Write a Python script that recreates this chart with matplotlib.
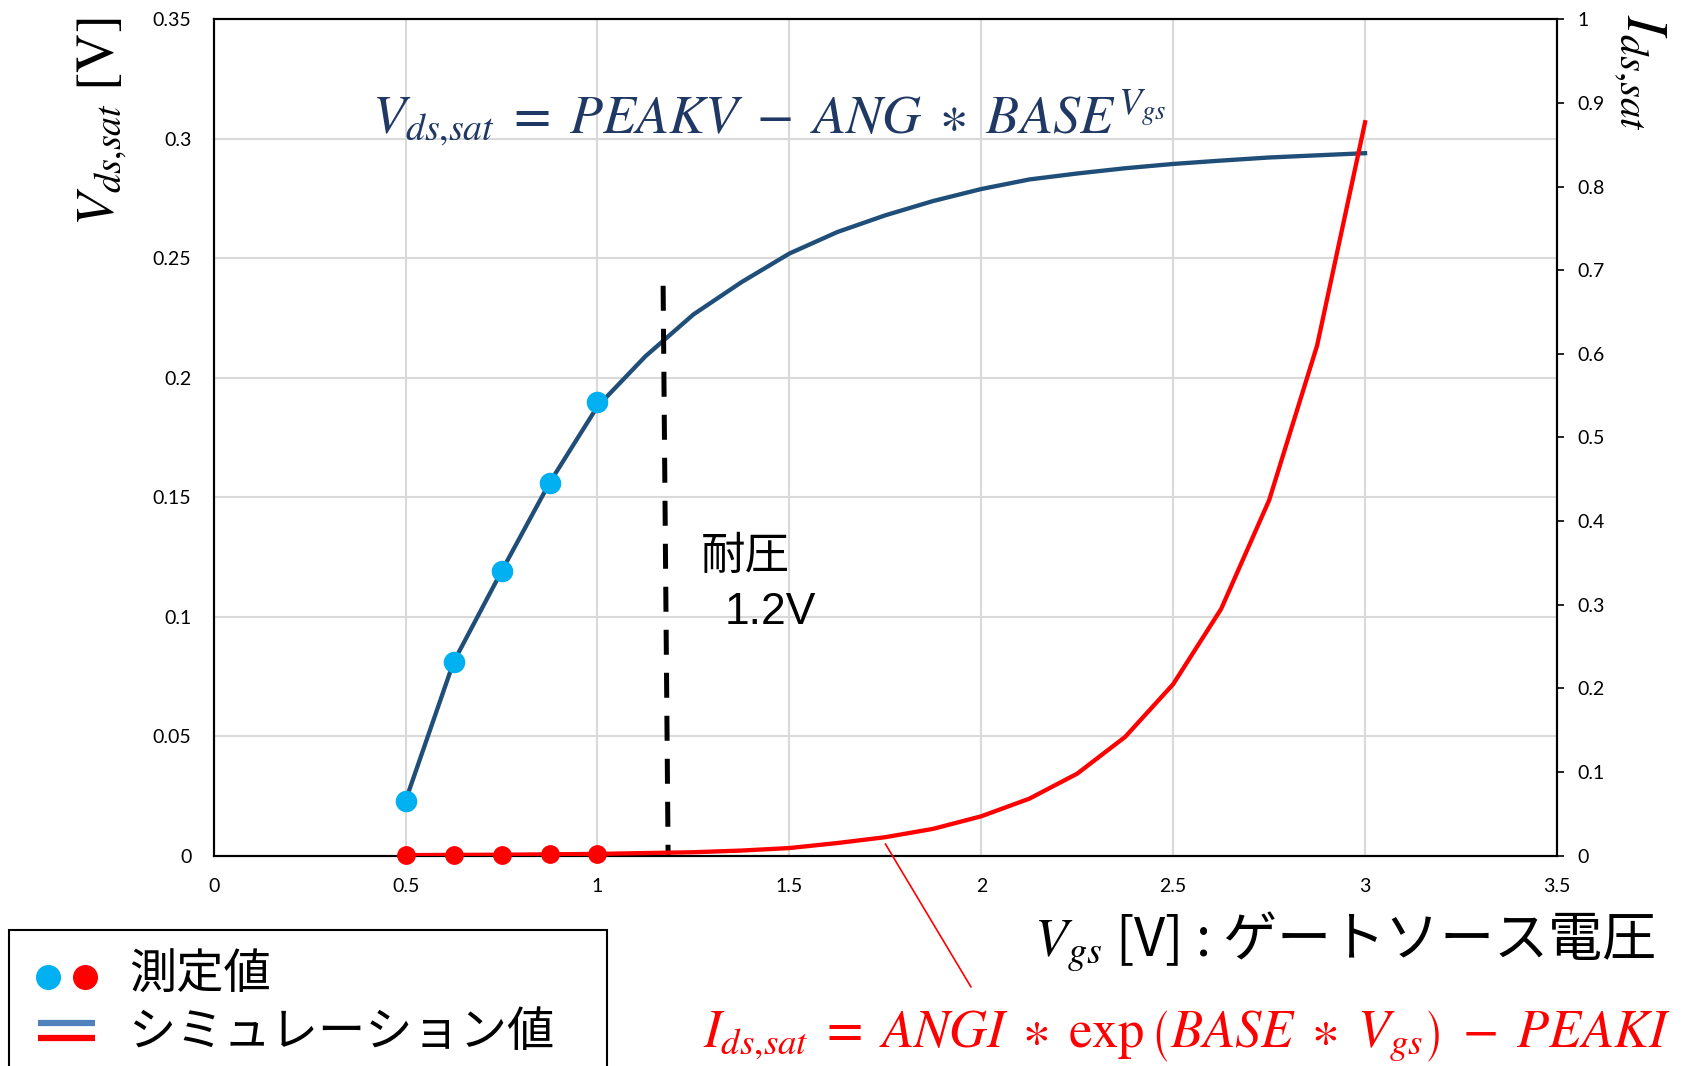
import matplotlib
matplotlib.use('Agg')
import matplotlib.pyplot as plt
from matplotlib.patches import Rectangle, ConnectionPatch

plt.rcParams['mathtext.fontset'] = 'stix'

# measured points
vgs_meas = [0.5, 0.625, 0.75, 0.875, 1.0]
vdsat_meas = [0.023, 0.081, 0.119, 0.156, 0.190]
idsat_meas = [0.0005, 0.0008, 0.001, 0.0015, 0.002]

# simulation curves
vgs_sim = [0.5, 0.625, 0.75, 0.875, 1.0, 1.125, 1.25, 1.375, 1.5, 1.625, 1.75,
           1.875, 2.0, 2.125, 2.25, 2.375, 2.5, 2.625, 2.75, 2.875, 3.0]
vdsat_sim = [0.023, 0.081, 0.119, 0.156, 0.188, 0.209, 0.2265, 0.240, 0.252, 0.261, 0.268,
             0.274, 0.279, 0.283, 0.2855, 0.2877, 0.2895, 0.2909, 0.2922, 0.2931, 0.294]
idsat_sim = [0.0005, 0.0008, 0.001, 0.0015, 0.002, 0.003, 0.004, 0.006, 0.009, 0.015, 0.022,
             0.032, 0.047, 0.068, 0.098, 0.142, 0.205, 0.295, 0.425, 0.61, 0.877]

# breakdown voltage marker line (slightly slanted in the original)
breakdown_x = [1.171, 1.184]
breakdown_y = [0.2385, 0.0]

x_ticks = [0, 0.5, 1, 1.5, 2, 2.5, 3, 3.5]
y_ticks = [0, 0.05, 0.1, 0.15, 0.2, 0.25, 0.3, 0.35]
y2_ticks = [0, 0.1, 0.2, 0.3, 0.4, 0.5, 0.6, 0.7, 0.8, 0.9, 1]

navy = '#1F4E79'
cyan = '#00B0F0'
red = '#FF0000'
tick_font = 'Lato'

fig = plt.figure(figsize=(16.92, 10.66), dpi=100)
ax = fig.add_axes([0.1263, 0.1974, 0.7939, 0.7844])
ax.set_xlim(0, 3.5)
ax.set_ylim(0, 0.35)
ax.set_xticks(x_ticks)
ax.set_yticks(y_ticks)
ax.set_xticklabels(['{:g}'.format(v) for v in x_ticks], fontsize=14, family=tick_font)
ax.set_yticklabels(['{:g}'.format(v) for v in y_ticks], fontsize=14, family=tick_font)
ax.tick_params(axis='both', length=0, pad=16)
ax.grid(True, color='#D9D9D9', lw=1.5)
ax.set_axisbelow(True)
for s in ax.spines.values():
    s.set_linewidth(1.5)

ax.plot(vgs_sim, vdsat_sim, color=navy, lw=3.1, zorder=3)
ax.plot(vgs_meas, vdsat_meas, 'o', color=cyan, ms=14.5, zorder=4)
ax.plot(breakdown_x, breakdown_y, color='black', lw=3.6, linestyle=(0, (5, 3.6)), zorder=3)

ax2 = ax.twinx()
ax2.set_ylim(0, 1)
ax2.set_yticks(y2_ticks)
ax2.set_yticklabels(['{:g}'.format(v) for v in y2_ticks], fontsize=14, family=tick_font)
ax2.tick_params(axis='y', length=5, width=1.2, pad=10)
for s in ax2.spines.values():
    s.set_linewidth(1.5)
ax2.plot(vgs_sim, idsat_sim, color=red, lw=3.1, zorder=3)
ax2.plot(vgs_meas, idsat_meas, 'o', color=red, ms=12.5, zorder=4, clip_on=False)

# overlay in pixel coordinates for labels and legend
lax = fig.add_axes([0, 0, 1, 1])
lax.set_xlim(0, 1692)
lax.set_ylim(1066, 0)
lax.axis('off')

lax.text(102, 122, r'$V_{ds{,}sat}\ \mathrm{[V]}$', rotation=90, fontsize=39,
         ha='center', va='center')
lax.text(1640, 72, r'$I_{ds{,}sat}$', rotation=-90, fontsize=42, ha='center', va='center')
lax.text(372, 118,
         r'$V_{ds{,}sat}\;=\;PEAKV\;-\;ANG\;\ast\;BASE^{V_{gs}}$',
         fontsize=39, color='#203864', ha='left', va='center')
lax.text(1034, 942, r'$V_{gs}$ [V] : ゲートソース電圧', fontsize=39,
         family='Noto Sans CJK JP', ha='left', va='center')
lax.text(703, 1036,
         r'$I_{ds{,}sat}\;=\;ANGI\;\ast\;\exp\left(BASE\;\ast\;V_{gs}\right)\;-\;PEAKI$',
         fontsize=38, color=red, ha='left', va='center')

lax.text(701, 556, '耐圧', fontsize=32, family=['Noto Sans CJK JP'], ha='left', va='center')
lax.text(725, 612, '1.2V', fontsize=32, family=['Liberation Sans'], ha='left', va='center')

# pointer from the red curve to its formula
con = ConnectionPatch(xyA=(1.75, 0.014), coordsA=ax2.transData,
                      xyB=(971, 987), coordsB=lax.transData, color=red, lw=1.2)
fig.add_artist(con)

# legend box
lax.add_patch(Rectangle((9, 930), 598, 160, facecolor='white', edgecolor='black', lw=1.5))
lax.plot([47.5], [976.5], 'o', color=cyan, ms=17)
lax.plot([85], [976.5], 'o', color=red, ms=17)
lax.plot([38, 95], [1023, 1023], color='#4F81BD', lw=4.5, solid_capstyle='butt')
lax.plot([38, 95], [1038, 1038], color=red, lw=4.5, solid_capstyle='butt')
lax.text(129, 976, '測定値', fontsize=34, family='Noto Sans CJK JP', ha='left', va='center')
lax.text(129, 1033, 'シミュレーション値', fontsize=34, family='Noto Sans CJK JP',
         ha='left', va='center')

fig.savefig('out.png', dpi=100)
